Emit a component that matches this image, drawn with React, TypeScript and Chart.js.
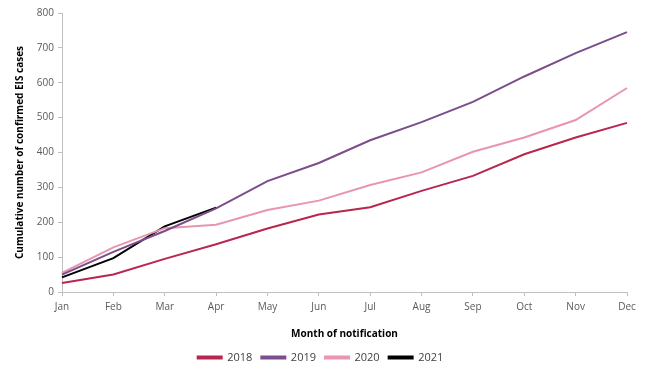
import React, { useEffect, useRef } from "react";
import { Chart, registerables } from "chart.js";

Chart.register(...registerables);

const months = ["Jan", "Feb", "Mar", "Apr", "May", "Jun", "Jul", "Aug", "Sep", "Oct", "Nov", "Dec"];
const cases2018 = [26, 50, 95, 137, 182, 222, 243, 290, 333, 395, 443, 485];
const cases2019 = [50, 115, 175, 240, 318, 370, 435, 487, 545, 618, 685, 745];
const cases2020 = [55, 128, 183, 193, 235, 262, 307, 343, 402, 443, 493, 585];
const cases2021 = [42, 97, 188, 242];

const FONT = "'Open Sans', 'Liberation Sans', sans-serif";

export default function App() {
  const ref = useRef<HTMLCanvasElement | null>(null);
  useEffect(() => {
    if (!ref.current) return;
    const mk = (label: string, data: number[], color: string) => ({
      label,
      data,
      borderColor: color,
      backgroundColor: color,
      borderWidth: 2,
      pointRadius: 0,
      tension: 0,
      fill: false,
    });
    const chart = new Chart(ref.current, {
      type: "line",
      data: {
        labels: months,
        datasets: [
          mk("2018", cases2018, "#b8264f"),
          mk("2019", cases2019, "#7b4d8c"),
          mk("2020", cases2020, "#e895ad"),
          mk("2021", cases2021, "#000000"),
        ],
      },
      options: {
        animation: false,
        responsive: false,
        layout: { padding: { top: 13, right: 23, left: 14, bottom: 4 } },
        plugins: {
          tooltip: { enabled: false },
          legend: {
            position: "bottom",
            labels: {
              boxWidth: 24,
              boxHeight: 2,
              padding: 9,
              color: "#404040",
              font: { family: FONT, size: 11 },
            },
          },
        },
        scales: {
          x: {
            offset: false,
            grid: { drawOnChartArea: false, drawTicks: true, tickLength: 4, color: "#bfbfbf" },
            border: { color: "#bfbfbf" },
            ticks: { color: "#595959", font: { family: FONT, size: 10 }, padding: 5, maxRotation: 0 },
            title: {
              display: true,
              text: "Month of notification",
              color: "#000",
              font: { family: FONT, size: 10, weight: "bold" },
              padding: { top: 10, bottom: 3 },
            },
          },
          y: {
            min: 0,
            max: 800,
            ticks: { stepSize: 100, color: "#595959", font: { family: FONT, size: 10 }, padding: 4 },
            grid: { drawOnChartArea: false, drawTicks: true, tickLength: 4, color: "#bfbfbf" },
            border: { color: "#bfbfbf" },
            title: {
              display: true,
              text: "Cumulative number of confirmed EIS cases",
              color: "#000",
              font: { family: FONT, size: 10, weight: "bold" },
              padding: { top: 0, bottom: 4 },
            },
            afterFit: (s: any) => {
              s.width = 48;
            },
          },
        },
      },
    });
    return () => chart.destroy();
  }, []);
  return (
    <div style={{ position: "absolute", left: 0, top: 0, width: 650, height: 377, background: "#fff" }}>
      <canvas ref={ref} width={650} height={377} />
    </div>
  );
}
